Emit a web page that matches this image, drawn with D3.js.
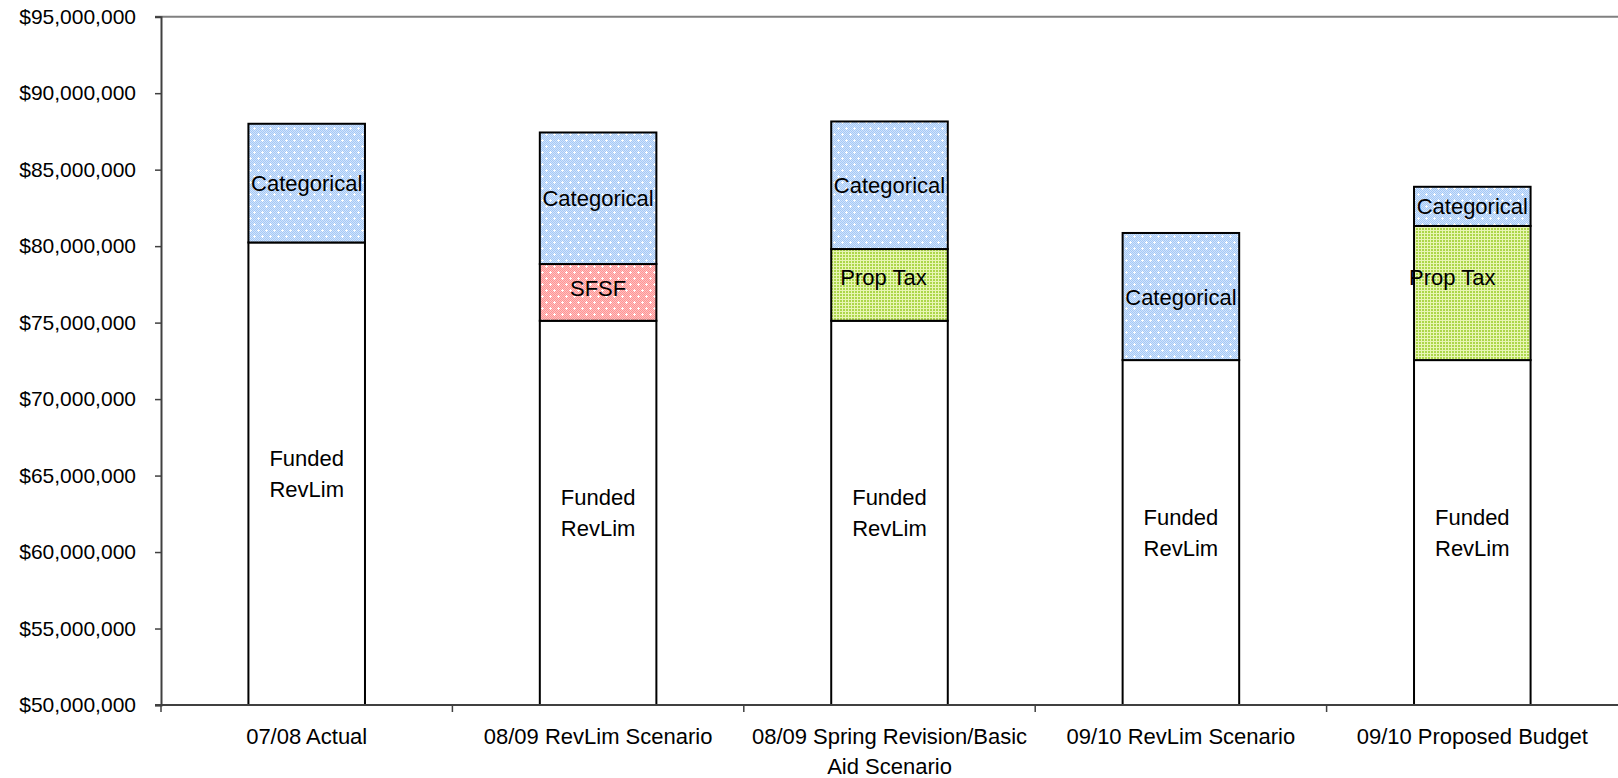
<!DOCTYPE html>
<html>
<head>
<meta charset="utf-8">
<script src="https://cdn.jsdelivr.net/npm/d3@7"></script>
<style>
  html, body { margin: 0; padding: 0; background: #ffffff; }
  svg { display: block; font-family: "Liberation Sans", Arial, sans-serif; }
</style>
</head>
<body>
<svg id="chart" width="1618" height="778"></svg>
<script>
// ---- Data (millions of dollars) ----
const categories = [
  ["07/08 Actual"],
  ["08/09 RevLim Scenario"],
  ["08/09 Spring Revision/Basic", "Aid Scenario"],
  ["09/10 RevLim Scenario"],
  ["09/10 Proposed Budget"]
];
const fundedRevLim = [80.24, 75.12, 75.12, 72.55, 72.55];
const sfsf         = [0, 3.71, 0, 0, 0];
const propTax      = [0, 0, 4.69, 0, 8.77];
const categorical  = [7.76, 8.60, 8.34, 8.31, 2.56];
const seriesNames  = ["Funded RevLim", "SFSF", "Prop Tax", "Categorical"];
const seriesLabels = [["Funded", "RevLim"], ["SFSF"], ["Prop Tax"], ["Categorical"]];
const yTicks = [50, 55, 60, 65, 70, 75, 80, 85, 90, 95];

// ---- Layout / style (not data) ----
const plot = { left: 161, right: 1618, top: 16.7, bottom: 705 };
const barFrac = 0.40;
const fills = ["#ffffff", "url(#pSFSF)", "url(#pProp)", "url(#pCat)"];
const labelNudge = {
  "Prop Tax": [[0,0],[0,0],[-6,-8],[0,0],[-20,-16]],
  "SFSF": [[0,0],[0,-4],[0,0],[0,0],[0,0]]
};

const svg = d3.select("#chart");

// ---- Patterns ----
const defs = svg.append("defs");
function checker(id, base, dark) {
  const p = defs.append("pattern").attr("id", id).attr("patternUnits", "userSpaceOnUse")
    .attr("width", 2).attr("height", 2);
  p.append("rect").attr("width", 2).attr("height", 2).attr("fill", base);
  p.append("rect").attr("width", 1).attr("height", 1).attr("fill", dark);
  p.append("rect").attr("x", 1).attr("y", 1).attr("width", 1).attr("height", 1).attr("fill", dark);
}
function plusPattern(id, checkId) {
  const p = defs.append("pattern").attr("id", id).attr("patternUnits", "userSpaceOnUse")
    .attr("width", 8).attr("height", 12);
  p.append("rect").attr("width", 8).attr("height", 12).attr("fill", `url(#${checkId})`);
  [[2, 2], [6, 8]].forEach(([cx, cy]) => {
    p.append("rect").attr("x", cx).attr("y", cy - 1).attr("width", 1).attr("height", 3).attr("fill", "#ffffff");
    p.append("rect").attr("x", cx - 1).attr("y", cy).attr("width", 3).attr("height", 1).attr("fill", "#ffffff");
  });
}
checker("cCat", "#cfe3fd", "#a6c9f5");
plusPattern("pCat", "cCat");
checker("cSFSF", "#ffc0c0", "#ff9494");
plusPattern("pSFSF", "cSFSF");
(function () {
  const p = defs.append("pattern").attr("id", "pProp").attr("patternUnits", "userSpaceOnUse")
    .attr("width", 3).attr("height", 3);
  p.append("rect").attr("width", 3).attr("height", 3).attr("fill", "#e8f5b4");
  p.append("rect").attr("width", 2).attr("height", 2).attr("fill", "#acd64a");
})();

// ---- Scales ----
const x = d3.scaleBand().domain(d3.range(categories.length))
  .range([plot.left, plot.right]).paddingInner(0).paddingOuter(0);
const y = d3.scaleLinear().domain([50, 95]).range([plot.bottom, plot.top]).clamp(true);

// ---- Stack ----
const rows = categories.map((c, i) => ({
  i,
  "Funded RevLim": fundedRevLim[i],
  "SFSF": sfsf[i],
  "Prop Tax": propTax[i],
  "Categorical": categorical[i]
}));
const stacked = d3.stack().keys(seriesNames)(rows);

// ---- Axes ----
svg.append("line")
  .attr("x1", plot.left - 6).attr("x2", plot.right)
  .attr("y1", y(95)).attr("y2", y(95))
  .attr("stroke", "#808080").attr("stroke-width", 2);

const yAxis = svg.append("g").attr("transform", `translate(${plot.left},0)`)
  .call(d3.axisLeft(y).tickValues(yTicks).tickSize(6).tickPadding(19)
    .tickFormat(d => "$" + d3.format(",")(d * 1e6)));
yAxis.select(".domain").attr("stroke", "#404040").attr("stroke-width", 2);
yAxis.selectAll(".tick line").attr("stroke", "#404040").attr("stroke-width", 1.5);
yAxis.selectAll(".tick text").attr("font-size", 21).attr("fill", "#000")
  .attr("font-family", "Liberation Sans, Arial, sans-serif");

// bars
const bw = x.bandwidth() * barFrac;
const layers = svg.append("g").selectAll("g").data(stacked).join("g")
  .attr("fill", (d, k) => fills[k]);
layers.selectAll("rect").data(d => d.filter(s => s[1] - s[0] > 0)).join("rect")
  .attr("x", s => x(s.data.i) + x.bandwidth() / 2 - bw / 2)
  .attr("width", bw)
  .attr("y", s => y(s[1]))
  .attr("height", s => y(s[0]) - y(s[1]))
  .attr("stroke", "#000").attr("stroke-width", 2);

// x axis
const xAxisG = svg.append("g").attr("transform", `translate(0,${plot.bottom})`);
xAxisG.append("line").attr("x1", plot.left - 6).attr("x2", plot.right)
  .attr("stroke", "#404040").attr("stroke-width", 2);
const boundaries = d3.range(categories.length).map(k => x(k));
xAxisG.selectAll("line.tk").data(boundaries).join("line").attr("class", "tk")
  .attr("x1", d => d).attr("x2", d => d).attr("y1", 0).attr("y2", 7)
  .attr("stroke", "#404040").attr("stroke-width", 1.5);
const catText = svg.append("g").selectAll("text").data(categories).join("text")
  .attr("x", (d, i) => x(i) + x.bandwidth() / 2)
  .attr("y", 744)
  .attr("text-anchor", "middle").attr("font-size", 22).attr("fill", "#000");
catText.selectAll("tspan").data(d => d).join("tspan")
  .attr("x", function () { return d3.select(this.parentNode).attr("x"); })
  .attr("dy", (d, j) => j === 0 ? 0 : 30)
  .text(d => d);

// segment labels
const labelG = svg.append("g");
stacked.forEach((layer, k) => {
  const name = seriesNames[k];
  const lines = seriesLabels[k];
  layer.forEach((s, i) => {
    if (s[1] - s[0] <= 0) return;
    const nudge = (labelNudge[name] || [])[i] || [0, 0];
    const cx = x(i) + x.bandwidth() / 2 + nudge[0];
    const cy = (y(s[0]) + y(s[1])) / 2 + nudge[1];
    const lh = 31;
    const t = labelG.append("text").attr("text-anchor", "middle")
      .attr("font-size", 22).attr("fill", "#000");
    lines.forEach((ln, j) => {
      t.append("tspan").attr("x", cx)
        .attr("y", cy + (j - (lines.length - 1) / 2) * lh + 8)
        .text(ln);
    });
  });
});
</script>
</body>
</html>
